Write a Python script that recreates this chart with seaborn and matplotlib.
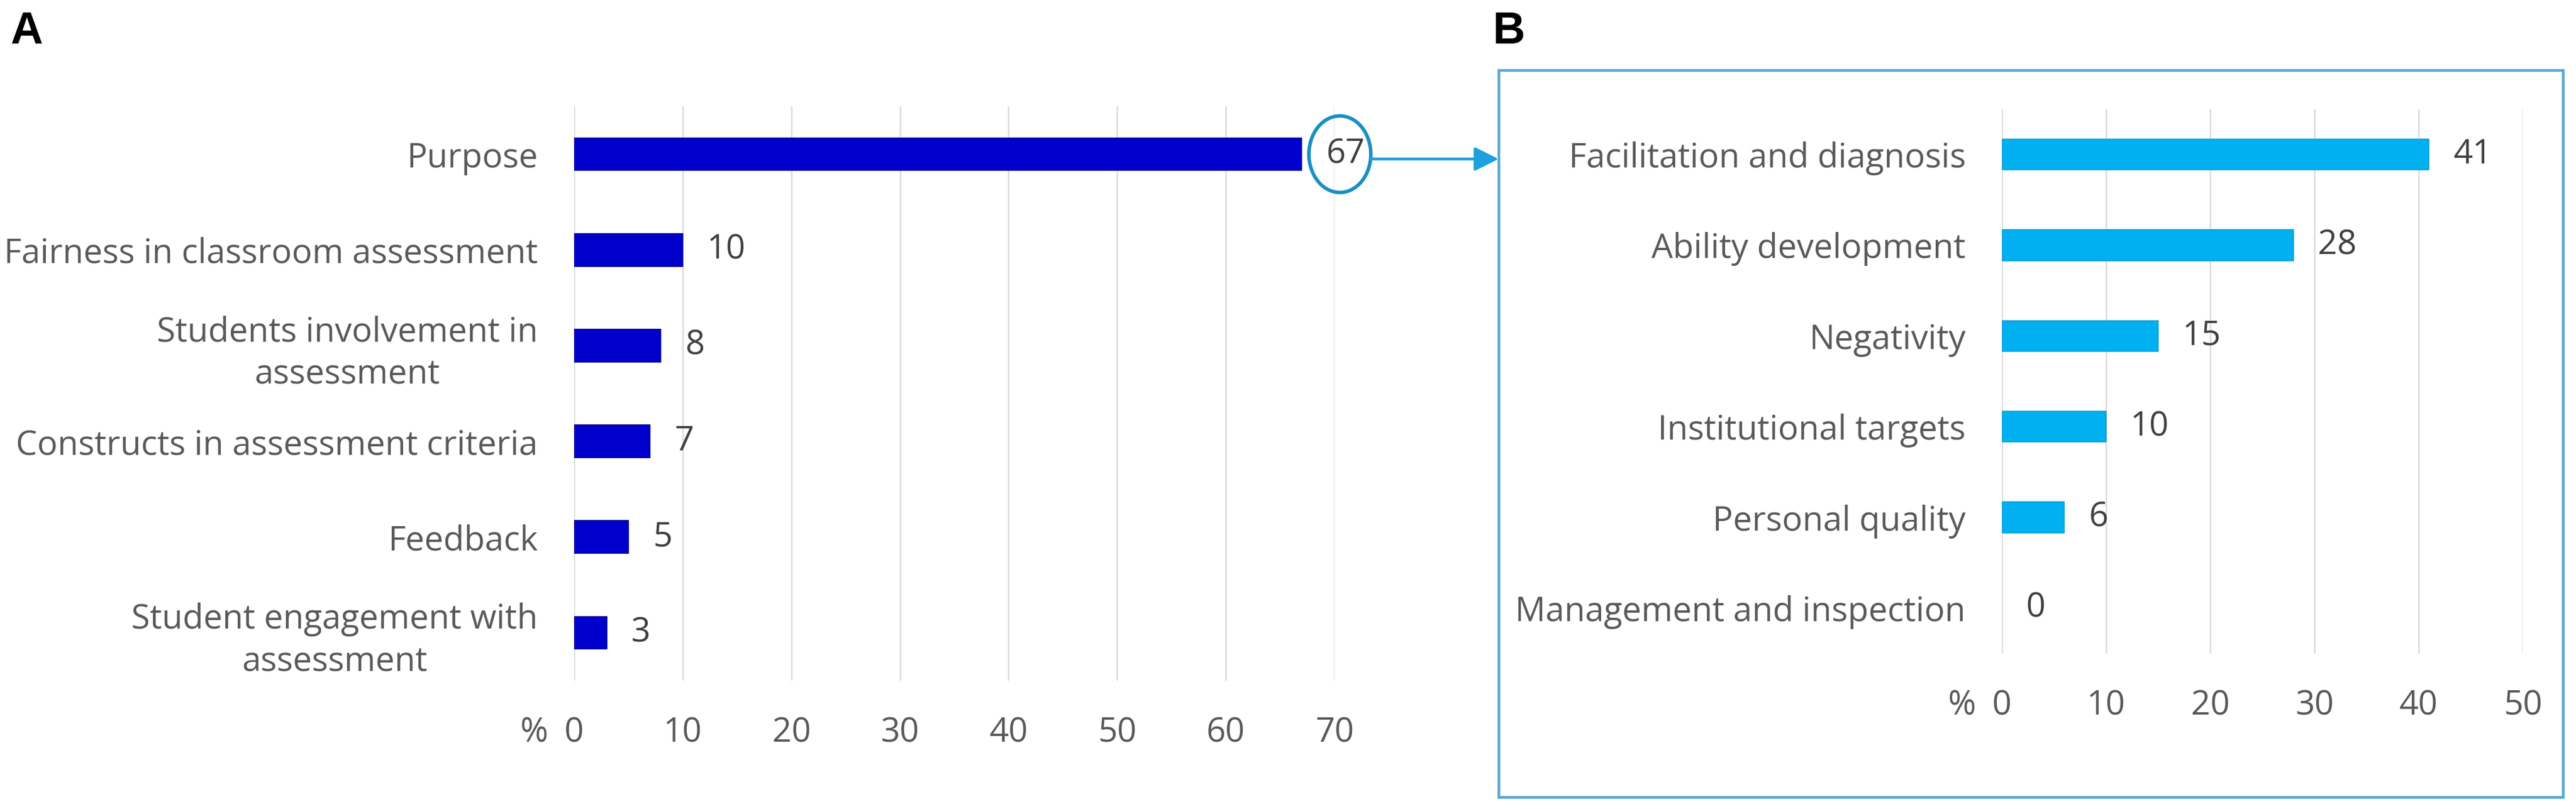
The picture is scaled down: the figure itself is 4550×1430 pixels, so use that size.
import pandas as pd
import matplotlib.pyplot as plt
import seaborn as sns
from matplotlib.patches import Ellipse, Rectangle

# Dados do painel A
CATEGORIAS_A = [
    "Purpose",
    "Fairness in classroom assessment",
    "Students involvement in\nassessment",
    "Constructs in assessment criteria",
    "Feedback",
    "Student engagement with\nassessment",
]
VALORES_A = [67, 10, 8, 7, 5, 3]
TICKS_A = [0, 10, 20, 30, 40, 50, 60, 70]

# Dados do painel B (detalhe de "Purpose")
CATEGORIAS_B = [
    "Facilitation and diagnosis",
    "Ability development",
    "Negativity",
    "Institutional targets",
    "Personal quality",
    "Management and inspection",
]
VALORES_B = [41, 28, 15, 10, 6, 0]
TICKS_B = [0, 10, 20, 30, 40, 50]

# Configurações visuais
W, H = 4550, 1430
FONTE = 43
COR_A = "#0000CC"
COR_B = "#00B0F0"
COR_TEXTO = "#595959"
COR_VALOR = "#404040"
COR_GRID = "#D9D9D9"
COR_CAIXA = "#5DA9D3"
COR_SETA = "#1DA1DB"
CAIXA_X0, CAIXA_X1 = 2647 / W, 4527 / W
CAIXA_Y0, CAIXA_Y1 = 1 - 1409 / H, 1 - 124 / H


def painel(fig, rect, categorias, valores, ticks, cor, borda):
    ax = fig.add_axes(rect)
    df = pd.DataFrame({"cat": categorias, "val": valores})
    sns.barplot(data=df, x="val", y="cat", ax=ax, color=cor, width=0.34,
                edgecolor=borda, linewidth=1.2, saturation=1)
    # barra de valor zero não deve mostrar contorno
    for barra, v in zip(ax.patches, valores):
        if v == 0:
            barra.set_linewidth(0)
    ax.set_xlim(ticks[0], ticks[-1])
    ax.set_xticks(ticks)
    ax.set_xlabel("")
    ax.set_ylabel("")
    for s in ax.spines.values():
        s.set_visible(False)
    ax.set_axisbelow(True)
    ax.xaxis.grid(True, color=COR_GRID, lw=1.8)
    ax.yaxis.grid(False)
    ax.tick_params(axis="x", length=0, pad=45, labelsize=FONTE, labelcolor=COR_TEXTO)
    ax.tick_params(axis="y", length=0, pad=46, labelsize=FONTE, labelcolor=COR_TEXTO)
    for lbl in ax.get_yticklabels():
        lbl.set_multialignment("center")
        lbl.set_linespacing(1.3)
    ax.bar_label(ax.containers[0], labels=[str(v) for v in valores], padding=31,
                 fontsize=FONTE, color=COR_VALOR)
    ax.annotate("%", xy=(0, 0), xycoords=("data", "axes fraction"),
                xytext=(-33, -45), textcoords="offset points",
                ha="right", va="top", fontsize=FONTE, color=COR_TEXTO)
    return ax


def main():
    sns.set_theme(style="white")
    plt.rcParams["font.family"] = ["Open Sans", "DejaVu Sans"]
    fig = plt.figure(figsize=(W / 100, H / 100), dpi=100)

    ax_a = painel(fig, [1014 / W, 1 - 1203 / H, (2357 - 1014) / W, (1203 - 188) / H],
                  CATEGORIAS_A, VALORES_A, TICKS_A, COR_A, "#00008B")
    ax_b = painel(fig, [3536 / W, 1 - 1155 / H, (4456 - 3536) / W, (1155 - 193) / H],
                  CATEGORIAS_B, VALORES_B, TICKS_B, COR_B, "#0A9AD0")

    # círculo em volta do valor de "Purpose" e seta para o painel B
    cx = VALORES_A[0] + 3.5
    ax_a.add_patch(Ellipse((cx, 0), width=5.7, height=0.80, fill=False,
                           edgecolor="#1A8FC4", lw=4.5, clip_on=False))
    ax_a.annotate("", xy=(CAIXA_X0, 0.05), xycoords=("figure fraction", "data"),
                  xytext=(cx + 2.87, 0.05), textcoords="data",
                  arrowprops=dict(arrowstyle="-|>", color=COR_SETA, lw=3.6,
                                  mutation_scale=65, shrinkA=0, shrinkB=0))

    fig.patches.append(Rectangle((CAIXA_X0, CAIXA_Y0), CAIXA_X1 - CAIXA_X0,
                                 CAIXA_Y1 - CAIXA_Y0, transform=fig.transFigure,
                                 fill=False, edgecolor=COR_CAIXA, lw=3.5))

    fig.text(18 / W, 1 - 77 / H, "A", fontsize=57, fontweight="bold",
             family="Liberation Sans", color="black", va="baseline")
    fig.text(2637 / W, 1 - 77 / H, "B", fontsize=57, fontweight="bold",
             family="Liberation Sans", color="black", va="baseline")

    fig.savefig("out.png", dpi=100, facecolor="white")


if __name__ == "__main__":
    main()
